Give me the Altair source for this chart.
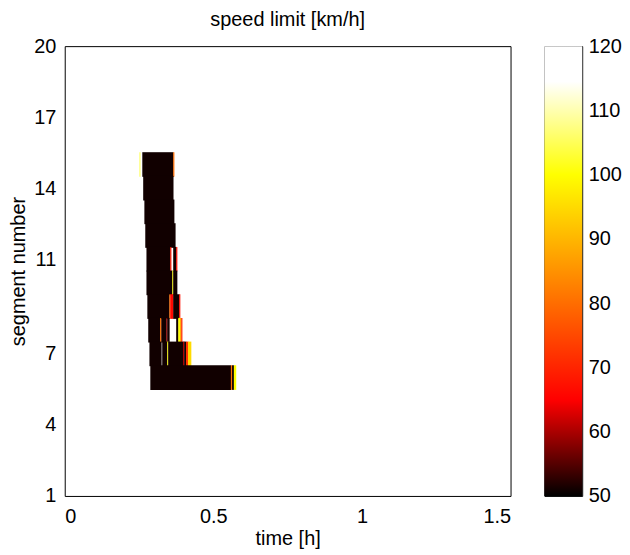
import altair as alt
import pandas as pd

# Runs of constant speed limit per segment (everything else is 120 km/h = white)
segment = [15, 15, 15,
           14,
           13,
           12,
           11, 11, 11, 11,
           10, 10, 10,
           9, 9, 9, 9, 9,
           8, 8, 8, 8, 8, 8, 8, 8, 8,
           7, 7, 7, 7, 7, 7, 7, 7,
           6, 6, 6, 6]
t_start = [0.251, 0.261, 0.365,
           0.264,
           0.268,
           0.271,
           0.275, 0.355, 0.365, 0.375,
           0.275, 0.362, 0.365,
           0.278, 0.352, 0.355, 0.365, 0.385,
           0.281, 0.321, 0.325, 0.342, 0.345, 0.375, 0.382, 0.388, 0.392,
           0.285, 0.328, 0.345, 0.348, 0.398, 0.402, 0.408, 0.415,
           0.288, 0.559, 0.563, 0.569]
t_end = [0.254, 0.365, 0.368,
         0.365,
         0.368,
         0.372,
         0.355, 0.358, 0.375, 0.378,
         0.362, 0.365, 0.378,
         0.352, 0.355, 0.365, 0.385, 0.388,
         0.321, 0.325, 0.342, 0.345, 0.352, 0.382, 0.388, 0.392, 0.395,
         0.325, 0.345, 0.348, 0.398, 0.402, 0.408, 0.415, 0.425,
         0.559, 0.563, 0.569, 0.576]
speed = [106, 51, 80,
         51,
         51,
         51,
         51, 68, 51, 67,
         51, 100, 51,
         51, 80, 66, 51, 67,
         51, 80, 51, 60, 51, 51, 100, 88, 70,
         51, 51, 100, 51, 60, 51, 72, 95,
         51, 80, 51, 100]

x_ticks = [0, 0.5, 1, 1.5]
y_ticks = [1, 4, 7, 11, 14, 17, 20]
cbar_ticks = [50, 60, 70, 80, 90, 100, 110, 120]
cbar_range = [50, 120]
cmap_stops = [50, 65, 100, 114.5, 120]
cmap_colors = ["#000000", "#ff0000", "#ffff00", "#ffffff", "#ffffff"]

df = pd.DataFrame({"segment": segment, "t0": t_start, "t1": t_end, "speed": speed})
cb_df = pd.DataFrame({"lo": [cbar_range[0]], "hi": [cbar_range[1]]})

FONT = "Liberation Sans"
FS = 20
cscale = alt.Scale(domain=cmap_stops, range=cmap_colors, interpolate="rgb")

heat = (
    alt.Chart(df)
    # tiny overlaps hide anti-aliasing seams between adjacent cells
    .transform_calculate(y0="datum.segment - 0.52", y1="datum.segment + 0.52",
                         t1e="datum.t1 + 0.001")
    .mark_rect(strokeWidth=0)
    .encode(
        x=alt.X("t0:Q",
                scale=alt.Scale(domain=[0, 1.5], nice=False, zero=False),
                axis=alt.Axis(values=x_ticks, format="~g", title="time [h]",
                              grid=False, domain=False, ticks=False,
                              labelPadding=11, titlePadding=2)),
        x2="t1e:Q",
        y=alt.Y("y0:Q",
                scale=alt.Scale(domain=[1, 20], nice=False, zero=False),
                axis=alt.Axis(values=y_ticks, title="segment number",
                              grid=False, domain=False, ticks=False,
                              labelPadding=9, titlePadding=5)),
        y2="y1:Q",
        color=alt.Color("speed:Q", scale=cscale, legend=None),
    )
    .properties(width=448, height=452,
                title=alt.TitleParams("speed limit [km/h]", fontSize=FS, font=FONT,
                                      fontWeight="normal", offset=6))
)

lo, hi = cmap_stops[0], cmap_stops[-1]
gradient = alt.LinearGradient(
    gradient="linear", x1=0, y1=1, x2=0, y2=0,
    stops=[alt.GradientStop(color=c, offset=(v - lo) / (hi - lo))
           for v, c in zip(cmap_stops, cmap_colors)],
)

colorbar = (
    alt.Chart(cb_df)
    .mark_rect(color=gradient, strokeWidth=0)
    .encode(
        x=alt.value(0), x2=alt.value(38),
        y=alt.Y("lo:Q", scale=alt.Scale(domain=cbar_range, nice=False, zero=False),
                axis=alt.Axis(orient="right", values=cbar_ticks, title=None,
                              grid=False, domain=False, ticks=False,
                              labelPadding=6)),
        y2="hi:Q",
    )
    .properties(width=38, height=452,
                title=alt.TitleParams(" ", fontSize=FS, font=FONT,
                                      fontWeight="normal", offset=6))
)

chart = (
    alt.hconcat(heat, colorbar, spacing=32)
    .properties(padding={"left": 0, "top": 0, "right": 0, "bottom": 0})
    .configure_view(stroke="black", strokeWidth=1, fill="white")
    .configure_axis(labelFont=FONT, titleFont=FONT, labelFontSize=FS,
                    titleFontSize=FS, labelColor="black", titleColor="black",
                    titleFontWeight="normal")
)

chart.save("out.html", embed_options={"renderer": "svg", "actions": False})
